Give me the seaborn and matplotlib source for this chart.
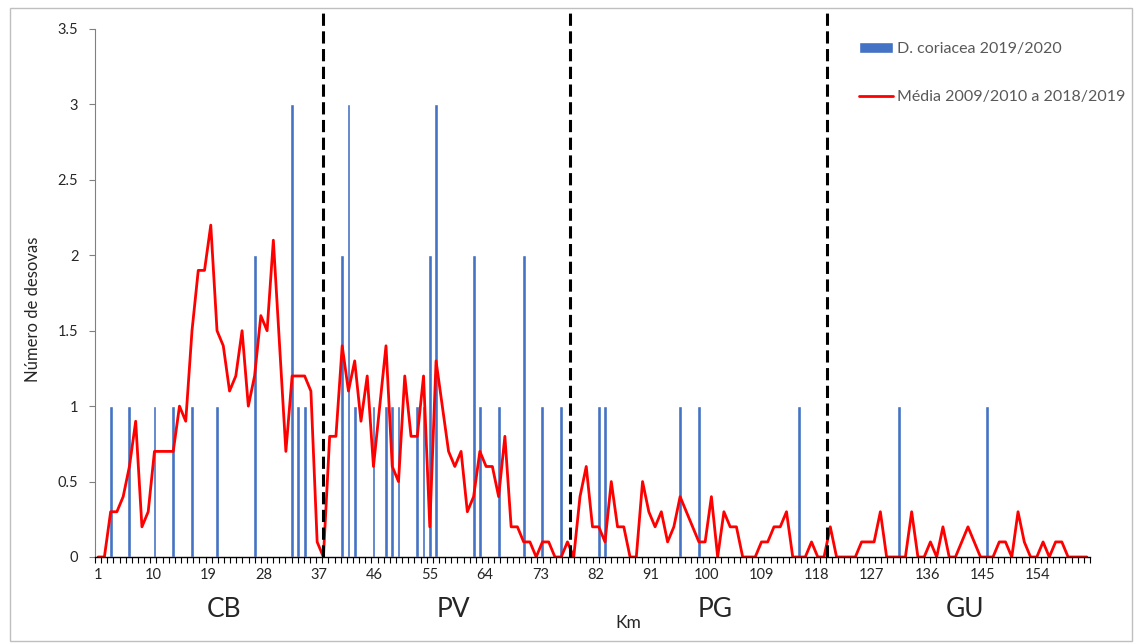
import numpy as np
import pandas as pd
import matplotlib
matplotlib.use("Agg")
import matplotlib.pyplot as plt
import matplotlib.transforms as mtransforms
from matplotlib.patches import Rectangle
import seaborn as sns

# ── data ────────────────────────────────────────────────────────────────────
km = list(range(1, 160))

media = [
    0, 0, 0.3, 0.3, 0.4, 0.6, 0.9, 0.2, 0.3, 0.7, 0.7, 0.7, 0.7, 1.0, 0.9, 1.5,
    1.9, 1.9, 2.2, 1.5, 1.4, 1.1, 1.2, 1.5, 1.0, 1.2, 1.6,
    1.5, 2.1, 1.4, 0.7, 1.2, 1.2, 1.2, 1.1, 0.1, 0, 0.8, 0.8, 1.4, 1.1, 1.3,
    0.9, 1.2, 0.6, 1.0, 1.4, 0.6, 0.5, 1.2, 0.8, 0.8,
    1.2, 0.2, 1.3, 1.0, 0.7, 0.6, 0.7, 0.3, 0.4, 0.7, 0.6, 0.6, 0.4, 0.8, 0.2,
    0.2, 0.1, 0.1, 0, 0.1, 0.1, 0, 0, 0.1, 0,
    0.4, 0.6, 0.2, 0.2, 0.1, 0.5, 0.2, 0.2, 0, 0, 0.5, 0.3, 0.2, 0.3, 0.1, 0.2,
    0.4, 0.3, 0.2, 0.1, 0.1, 0.4, 0, 0.3, 0.2, 0.2, 0, 0, 0,
    0.1, 0.1, 0.2, 0.2, 0.3, 0, 0, 0, 0.1, 0, 0, 0.2, 0, 0, 0, 0, 0.1, 0.1,
    0.1, 0.3, 0, 0, 0, 0, 0.3,
    0, 0, 0.1, 0, 0.2, 0, 0, 0.1, 0.2, 0.1, 0, 0, 0, 0.1, 0.1, 0, 0.3, 0.1,
    0, 0, 0.1, 0, 0.1, 0.1, 0, 0, 0, 0,
]

bar_km = [3, 6, 10, 13, 16, 20, 26, 32, 33, 34, 40, 41, 42, 45, 47, 48, 49,
          52, 53, 54, 55, 61, 62, 65, 69, 72, 75, 81, 82, 94, 97, 113, 129, 143]
bar_n = [1, 1, 1, 1, 1, 1, 2, 3, 1, 1, 2, 3, 1, 1, 1, 1, 1,
         1, 1, 2, 3, 2, 1, 1, 2, 1, 1, 1, 1, 1, 1, 1, 1, 1]

# the printed category axis has 162 slots, labelled every 9th
n_axis = 162
axis_labels = list(range(1, n_axis + 1, 9))

zonas = ["CB", "PV", "PG", "GU"]
zona_x = [21.1, 57.7, 99.6, 139.5]
limites = [36.9, 76.4, 117.4]

desovas = dict(zip(bar_km, bar_n))
df = pd.DataFrame({
    "km": km,
    "desovas": [desovas.get(k, 0) for k in km],
    "media": media,
})

# ── plot ────────────────────────────────────────────────────────────────────
sns.set_style("white")
plt.rcParams["font.family"] = ["Lato", "DejaVu Sans"]

fig = plt.figure(figsize=(11.37, 6.44), dpi=100)
ax = fig.add_axes([95 / 1137, 1 - 557 / 644, 995 / 1137, 528 / 644])

sns.barplot(data=df, x="km", y="desovas", native_scale=True, width=0.62,
            color="#4472C4", saturation=1, ax=ax,
            label="D. coriacea 2019/2020")
sns.lineplot(data=df, x="km", y="media", color="#FF0000", linewidth=2.0,
             ax=ax, label="Média 2009/2010 a 2018/2019")

x0, x1 = 0.5, len(km) + 0.5
ax.set_xlim(x0, x1)
ax.set_ylim(0, 3.5)
ax.set_yticks(np.arange(0, 3.51, 0.5))
ax.set_yticklabels(["0", "0.5", "1", "1.5", "2", "2.5", "3", "3.5"])

# tick marks at slot boundaries, labels at slot centres
step = (x1 - x0) / n_axis
ax.set_xticks([x0 + j * step for j in range(n_axis + 1)])
ax.set_xticklabels([])
ax.set_xticks([x0 + (n - 0.5) * step for n in axis_labels], minor=True)
ax.set_xticklabels([str(n) for n in axis_labels], minor=True)
ax.tick_params(axis="x", which="major", length=4, width=0.8, color="black",
               direction="out", bottom=True)
ax.tick_params(axis="x", which="minor", length=0, labelsize=10.5, pad=8,
               bottom=True)
ax.tick_params(axis="y", length=4, width=0.8, color="#808080", labelsize=10.5,
               pad=8, direction="out", left=True)

for s in ["top", "right"]:
    ax.spines[s].set_visible(False)
ax.spines["left"].set_color("#808080")
ax.spines["bottom"].set_color("black")
ax.spines["bottom"].set_linewidth(1.0)

ax.set_xlabel("")
ax.set_ylabel("Número de desovas", fontsize=12)
ax.yaxis.set_label_coords(-0.054, 0.47)

# zone separators
trans = mtransforms.blended_transform_factory(ax.transData, ax.transAxes)
for x in limites:
    ax.plot([x, x], [0, (557 - 8) / 528], transform=trans, color="black",
            linewidth=2.2, linestyle=(0, (4, 1.8)), clip_on=False, zorder=5)

for nome, x in zip(zonas, zona_x):
    ax.text(x, -0.1, nome, transform=trans, ha="center", va="center",
            fontsize=19)
ax.text(85.7, -0.125, "Km", transform=trans, ha="center", va="center",
        fontsize=12.5)

handles, labels = ax.get_legend_handles_labels()
order = [labels.index("D. coriacea 2019/2020"),
         labels.index("Média 2009/2010 a 2018/2019")]
leg = ax.legend([handles[i] for i in order], [labels[i] for i in order],
                loc="upper left", bbox_to_anchor=(0.760, 0.99), frameon=False,
                fontsize=11.5, labelspacing=2.1, handlelength=2.1,
                handletextpad=0.25, borderpad=0)
for t in leg.get_texts():
    t.set_color("#595959")

fig.patches.append(Rectangle((10 / 1137, 3 / 644), 1122 / 1137, 633 / 644,
                             transform=fig.transFigure, fill=False,
                             edgecolor="#bfbfbf", linewidth=1.0))

fig.savefig("out.png", dpi=100)
plt.close(fig)
